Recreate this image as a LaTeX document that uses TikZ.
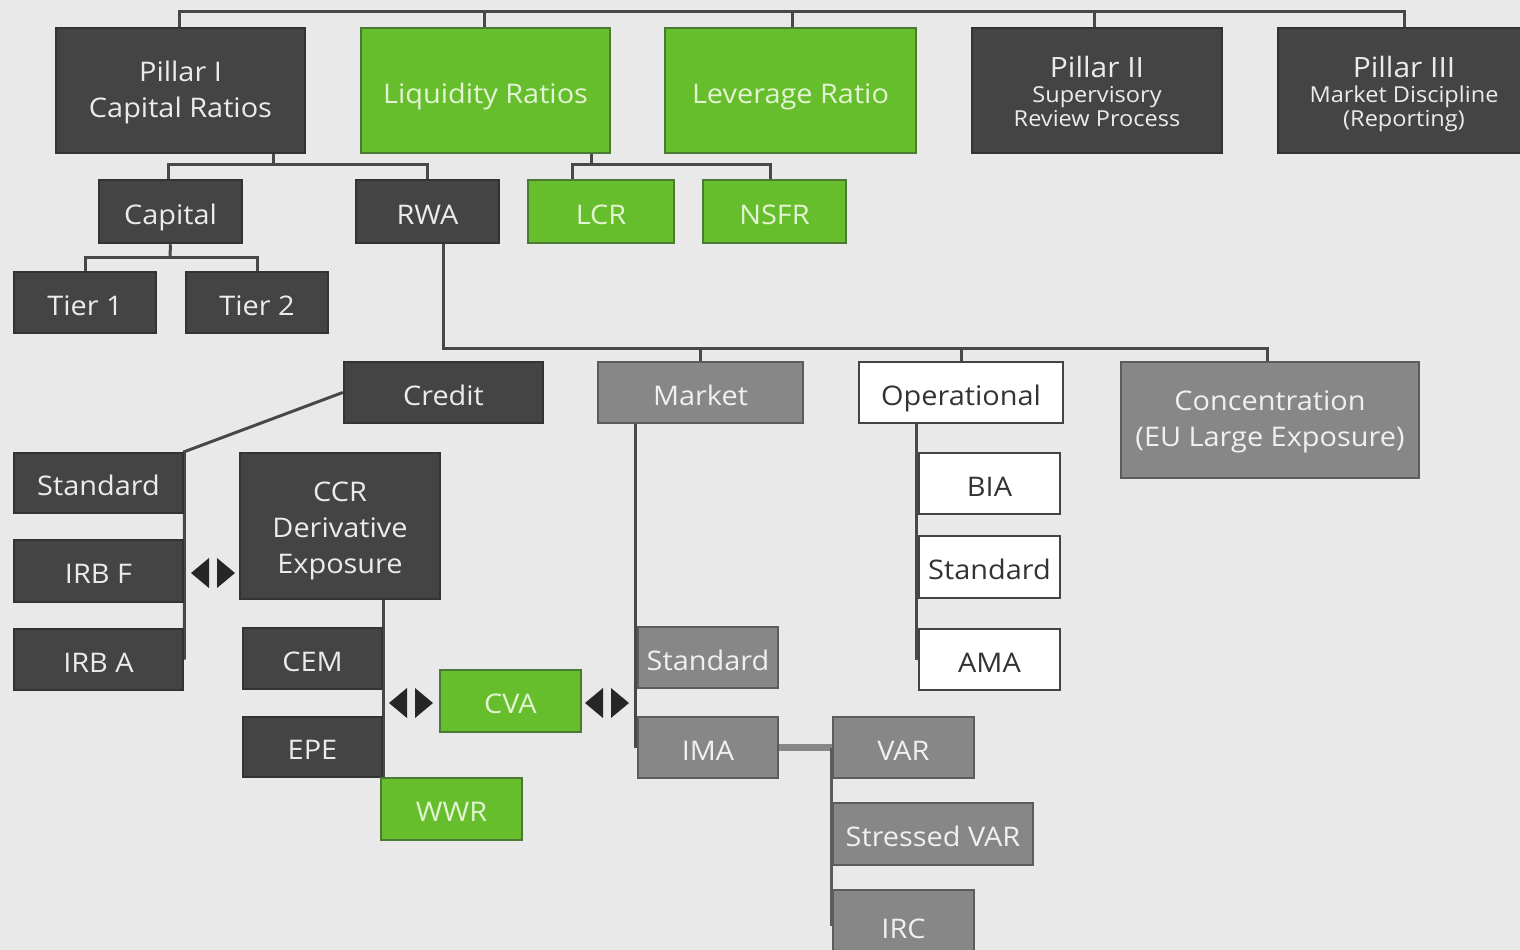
\documentclass[tikz,border=0pt]{standalone}
\usepackage{fontspec}
\setmainfont[FakeStretch=1.07]{Open Sans}
\pgfdeclarelayer{back}
\pgfdeclarelayer{bg}
\pgfsetlayers{back,bg,main}
\definecolor{bgc}{HTML}{E9E9E9}
\definecolor{darkc}{HTML}{444444}
\definecolor{darkb}{HTML}{333333}
\definecolor{greenc}{HTML}{66BE2C}
\definecolor{greenb}{HTML}{4A7A33}
\definecolor{greent}{HTML}{E2F4D2}
\definecolor{midc}{HTML}{878787}
\definecolor{midb}{HTML}{5C5C5C}
\definecolor{linec}{HTML}{484848}
\tikzset{
  boxbase/.style={rectangle, inner sep=0pt, line width=2.5pt, align=center,
    font=\fontsize{27}{36}\selectfont, text height=27pt, text depth=2pt},
  darkbox/.style={boxbase, fill=darkc, draw=darkb, text=white!92!black},
  greenbox/.style={boxbase, fill=greenc, draw=greenb, text=greent},
  midbox/.style={boxbase, fill=midc, draw=midb, text=white!94!black},
  whitebox/.style={boxbase, fill=white, draw=darkc, text=darkb},
  twolines/.style={text height=56pt, text depth=2pt},
  threelines/.style={text height=97pt, text depth=2pt},
  pillarlines/.style={font=\fontsize{22}{24}\selectfont, text height=73pt, text depth=2pt},
  conn/.style={draw=linec, line width=3pt},
  thickconn/.style={draw=midc, line width=7pt},
  grayconn/.style={draw=midb, line width=3pt},
  lrarrows/.pic={
    \fill[black!85] (-4,-15) -- (-22,0) -- (-4,15) -- cycle;
    \fill[black!85] (4,-15) -- (22,0) -- (4,15) -- cycle;
  }
}
\newcommand\mybox[7]{\node[#6, minimum width={#4-#2}, minimum height={#5-#3}] (#1) at ({(#2+#4)/2},{(#3+#5)/2}) {#7};}
\begin{document}
\begin{tikzpicture}[x=1pt,y=-1pt]
\useasboundingbox (0,0) rectangle (1520,950);
\begin{pgfonlayer}{back}
\fill[bgc] (0,0) rectangle (1520,950);
\end{pgfonlayer}
% top row
\mybox{p1}{56}{28}{305}{153}{darkbox,twolines}{Pillar I\\Capital Ratios}
\mybox{p2}{361}{28}{610}{153}{greenbox}{Liquidity Ratios}
\mybox{p3}{665}{28}{916}{153}{greenbox}{Leverage Ratio}
\mybox{p4}{972}{28}{1222}{153}{darkbox,pillarlines}{{\fontsize{28}{28}\selectfont Pillar II}\\[1pt]Supervisory\\Review Process}
\mybox{p5}{1278}{28}{1530}{153}{darkbox,pillarlines}{{\fontsize{28}{28}\selectfont Pillar III}\\[1pt]Market Discipline\\(Reporting)}
% second row
\mybox{cap}{99}{180}{242}{243}{darkbox}{Capital}
\mybox{rwa}{356}{180}{499}{243}{darkbox}{RWA}
\mybox{lcr}{528}{180}{674}{243}{greenbox}{LCR}
\mybox{nsfr}{703}{180}{846}{243}{greenbox}{NSFR}
\mybox{t1}{14}{272}{156}{333}{darkbox}{Tier 1}
\mybox{t2}{186}{272}{328}{333}{darkbox}{Tier 2}
% risk types
\mybox{cred}{344}{362}{543}{423}{darkbox}{Credit}
\mybox{mkt}{598}{362}{803}{423}{midbox}{Market}
\mybox{ops}{859}{362}{1063}{423}{whitebox}{Operational}
\mybox{conc}{1121}{362}{1419}{478}{midbox,twolines,text height=55pt}{Concentration\\(EU Large Exposure)}
% credit
\mybox{cstd}{14}{453}{183}{513}{darkbox}{Standard}
\mybox{irbf}{14}{540}{183}{602}{darkbox}{IRB F}
\mybox{irba}{14}{629}{183}{690}{darkbox}{IRB A}
\mybox{ccr}{240}{453}{440}{599}{darkbox,threelines}{CCR\\Derivative\\Exposure}
\mybox{cem}{243}{628}{382}{689}{darkbox}{CEM}
\mybox{epe}{243}{717}{382}{777}{darkbox}{EPE}
\mybox{wwr}{381}{778}{522}{840}{greenbox}{WWR}
\mybox{cva}{440}{670}{581}{732}{greenbox}{CVA}
% market
\mybox{mstd}{638}{627}{778}{688}{midbox}{Standard}
\mybox{ima}{638}{717}{778}{778}{midbox}{IMA}
\mybox{var}{833}{717}{974}{778}{midbox}{VAR}
\mybox{svar}{833}{803}{1033}{865}{midbox}{Stressed VAR}
\mybox{irc}{833}{890}{974}{962}{midbox}{IRC}
% operational
\mybox{bia}{919}{453}{1060}{514}{whitebox}{BIA}
\mybox{ostd}{919}{536}{1060}{598}{whitebox}{Standard}
\mybox{ama}{919}{629}{1060}{690}{whitebox}{AMA}
% double arrows
\pic at (213,573) {lrarrows};
\pic at (411,703) {lrarrows};
\pic at (607,703) {lrarrows};
% connectors
\coordinate (tb) at (0,12);
\coordinate (b1) at (273,164);
\coordinate (b2) at (591,164);
\coordinate (b3) at (170,257);
\coordinate (b4) at (443,348);
\begin{pgfonlayer}{bg}
\draw[conn] ([xshift=-1]p1.north) |- (tb -| p5.north) -- (p5.north);
\draw[conn] ([xshift=-1]p2.north) -- ([xshift=-1]p2.north |- tb);
\draw[conn] ([xshift=2]p3.north) -- ([xshift=2]p3.north |- tb);
\draw[conn] ([xshift=-3]p4.north) -- ([xshift=-3]p4.north |- tb);
\draw[conn] (b1 |- p1.south) -- (b1);
\draw[conn] ([xshift=-2]cap.north) |- (b1) -| (rwa.north);
\draw[conn] (b2 |- p2.south) -- (b2);
\draw[conn] ([xshift=-29]lcr.north) |- (b2) -| ([xshift=-4]nsfr.north);
\draw[conn] (cap.south) -- (b3);
\draw[conn] (t1.north) |- (b3) -| (t2.north);
\draw[conn] (b4 |- rwa.south) -- (b4) -| ([xshift=-3]conc.north);
\draw[conn] (mkt.north) -- (mkt.north |- b4);
\draw[conn] (ops.north) -- (ops.north |- b4);
\draw[conn] (cred.west) -- (cstd.north east) -- (irba.east);
\draw[conn] (ccr.south -| cem.east) -- (cem.east |- wwr.north);
\draw[conn] ([xshift=-1]mkt.south -| mstd.west) -- ([xshift=-1]ima.west);
\draw[conn] ([xshift=-1]ops.south -| bia.west) -- ([xshift=-1]ama.west);
\draw[thickconn] (ima.east) -- (var.west);
\draw[grayconn] (var.west) -- (irc.west);
\end{pgfonlayer}
\end{tikzpicture}
\end{document}
